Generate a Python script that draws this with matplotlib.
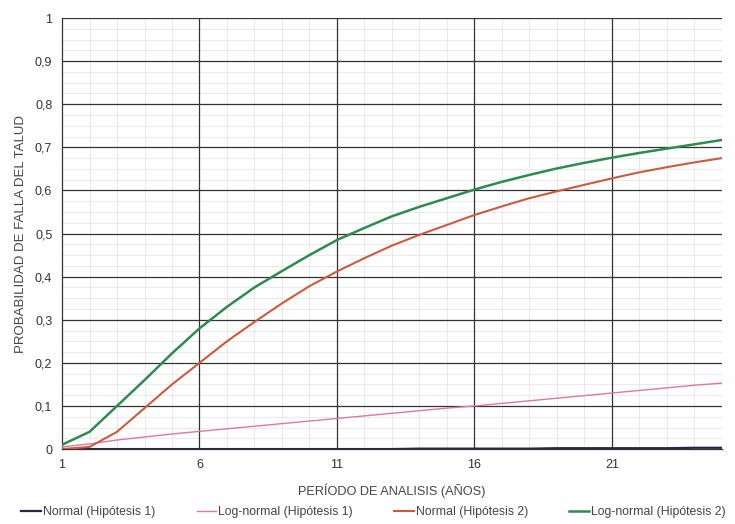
import matplotlib
matplotlib.use("Agg")
import matplotlib.pyplot as plt
from matplotlib.ticker import FixedLocator

years = list(range(1, 26))
normal_h1 = [0, 0, 0, 0, 0, 0, 0, 0, 0, 0, 0, 0, 0, 0.001, 0.001, 0.001, 0.001, 0.001, 0.002, 0.002, 0.002, 0.002, 0.002, 0.003, 0.003]
lognormal_h1 = [0.005, 0.012, 0.021, 0.028, 0.035, 0.041, 0.047, 0.053, 0.059, 0.065, 0.071, 0.077, 0.083, 0.089, 0.095, 0.1, 0.106, 0.112, 0.118, 0.124, 0.13, 0.136, 0.142, 0.148, 0.153]
normal_h2 = [0.0, 0.005, 0.04, 0.095, 0.15, 0.2, 0.25, 0.295, 0.338, 0.378, 0.412, 0.443, 0.472, 0.497, 0.52, 0.543, 0.563, 0.582, 0.598, 0.613, 0.628, 0.642, 0.654, 0.665, 0.675]
lognormal_h2 = [0.01, 0.04, 0.1, 0.16, 0.222, 0.28, 0.33, 0.375, 0.413, 0.45, 0.485, 0.513, 0.54, 0.562, 0.582, 0.602, 0.62, 0.636, 0.651, 0.664, 0.676, 0.687, 0.697, 0.707, 0.717]
labels = ["Normal (Hipótesis 1)", "Log-normal (Hipótesis 1)", "Normal (Hipótesis 2)", "Log-normal (Hipótesis 2)"]
colors = ["#1f2a44", "#d77aa6", "#cc5a3e", "#2e8b4e"]
xticks = [1, 6, 11, 16, 21]
yticks = [0, 0.1, 0.2, 0.3, 0.4, 0.5, 0.6, 0.7, 0.8, 0.9, 1.0]
yticklabels = ["0", "0,1", "0,2", "0,3", "0,4", "0,5", "0,6", "0,7", "0,8", "0,9", "1"]

plt.rcParams['font.family'] = ['Liberation Sans', 'DejaVu Sans']
fig = plt.figure(figsize=(7.35, 5.24), dpi=100)
ax = fig.add_axes([0.0844, 0.143, 0.8976, 0.8226])

series = [normal_h1, lognormal_h1, normal_h2, lognormal_h2]
widths = [1.6, 1.0, 1.5, 1.8]
for s, c, lab, w in zip(series, colors, labels, widths):
    ax.plot(years, s, color=c, lw=w, label=lab, zorder=3)

ax.set_xlim(1, 25)
ax.set_ylim(0, 1)
ax.xaxis.set_major_locator(FixedLocator(xticks))
ax.xaxis.set_minor_locator(FixedLocator([v for v in years if v not in xticks]))
ax.set_yticks(yticks)
ax.set_yticklabels(yticklabels)
ax.yaxis.set_minor_locator(FixedLocator([i * 0.025 for i in range(41) if i % 4 != 0]))
ax.grid(which='minor', color='#e2e2e2', lw=0.5)
ax.grid(which='major', visible=False)
ax.set_axisbelow(True)
for xv in xticks[1:]:
    ax.axvline(xv, color='#333333', lw=0.9, zorder=1)
for yv in yticks[1:]:
    ax.axhline(yv, color='#333333', lw=0.9, zorder=1)
for sp in ax.spines.values():
    sp.set_color('#333333')
    sp.set_linewidth(0.9)
ax.spines['top'].set_visible(False)
ax.spines['right'].set_visible(False)
ax.tick_params(which='both', length=0, labelsize=9, colors='#333333', pad=7)

ax.set_xlabel("PERÍODO DE ANALISIS (AÑOS)", fontsize=9.2, color='#444444', labelpad=9)
ax.set_ylabel("PROBABILIDAD DE FALLA DEL TALUD", fontsize=9.5, color='#444444', labelpad=6)

fig.legend(loc='lower center', bbox_to_anchor=(0.508, -0.01), ncol=4, frameon=False,
           fontsize=8.8, handlelength=1.6, handletextpad=0.15, columnspacing=3.4,
           labelcolor='#444444')

fig.savefig("out.png", dpi=100, facecolor='white')
